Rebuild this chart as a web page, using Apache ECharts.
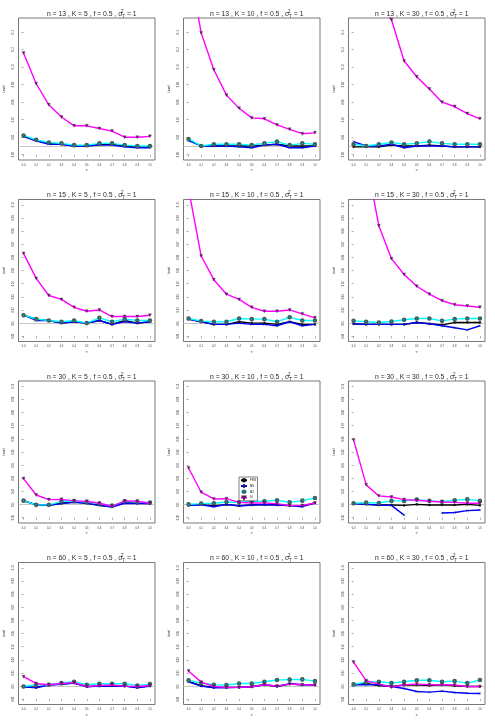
<!DOCTYPE html>
<html><head><meta charset="utf-8">
<script src="https://cdn.jsdelivr.net/npm/echarts@6/dist/echarts.min.js"></script>
<style>html,body{margin:0;padding:0;background:#fff}#c{width:495px;height:726px}</style>
</head><body><div id="c"></div>
<script>
// ---- data ----
const tau2 = [0.0,0.1,0.2,0.3,0.4,0.5,0.6,0.7,0.8,0.9,1.0];
const nVals = [13,15,30,60];
const kVals = [5,10,30];
const methods = ['FSW','MS','M2','SI'];
const yTicksRow1 = [0,0.02,0.04,0.06,0.08,0.10,0.12,0.14];
const yTicksOther = [0,0.01,0.02,0.03,0.04,0.05,0.06,0.07,0.08,0.09,0.10];
const nominalLevel = 0.01;

// n = 13
const fsw_13_5 = [0.021,0.016,0.013,0.012,0.010,0.010,0.012,0.012,0.010,0.009,0.009];
const ms_13_5  = [0.021,0.016,0.012,0.012,0.010,0.010,0.011,0.011,0.009,0.008,0.008];
const m2_13_5  = [0.022,0.017,0.014,0.013,0.011,0.011,0.013,0.013,0.011,0.010,0.010];
const si_13_5  = [0.116,0.081,0.057,0.043,0.033,0.033,0.030,0.027,0.020,0.020,0.021];

const fsw_13_10 = [0.017,0.010,0.010,0.010,0.010,0.010,0.011,0.012,0.010,0.010,0.010];
const ms_13_10  = [0.016,0.010,0.010,0.010,0.009,0.008,0.011,0.012,0.008,0.008,0.010];
const m2_13_10  = [0.018,0.010,0.012,0.012,0.012,0.011,0.013,0.015,0.011,0.013,0.012];
const si_13_10  = [0.220,0.139,0.097,0.068,0.053,0.042,0.041,0.034,0.029,0.024,0.025];

const fsw_13_30 = [0.009,0.009,0.009,0.011,0.010,0.010,0.011,0.010,0.009,0.009,0.009];
const ms_13_30  = [0.015,0.010,0.010,0.012,0.008,0.010,0.010,0.010,0.009,0.009,0.009];
const m2_13_30  = [0.012,0.010,0.012,0.014,0.012,0.013,0.015,0.013,0.012,0.012,0.012];
const si_13_30  = [0.330,0.260,0.175,0.154,0.107,0.089,0.075,0.060,0.055,0.047,0.041];

// n = 15
const fsw_15_5 = [0.016,0.013,0.012,0.010,0.011,0.010,0.012,0.009,0.012,0.010,0.011];
const ms_15_5  = [0.016,0.012,0.012,0.010,0.011,0.010,0.012,0.009,0.011,0.010,0.011];
const m2_15_5  = [0.016,0.013,0.012,0.011,0.012,0.010,0.014,0.011,0.013,0.012,0.012];
const si_15_5  = [0.063,0.044,0.031,0.028,0.022,0.019,0.020,0.015,0.015,0.015,0.016];

const fsw_15_10 = [0.013,0.011,0.009,0.009,0.011,0.010,0.010,0.009,0.011,0.009,0.009];
const ms_15_10  = [0.013,0.011,0.009,0.009,0.010,0.009,0.009,0.008,0.011,0.008,0.009];
const m2_15_10  = [0.0135,0.0115,0.011,0.011,0.0135,0.013,0.013,0.011,0.0145,0.012,0.012];
const si_15_10  = [0.112,0.061,0.043,0.032,0.028,0.022,0.019,0.019,0.020,0.017,0.014];

const fsw_15_30 = [0.0095,0.009,0.009,0.009,0.009,0.0105,0.0095,0.0085,0.0105,0.0105,0.0105];
const ms_15_30  = [0.0095,0.009,0.009,0.009,0.009,0.0105,0.0095,0.008,0.0065,0.0048,0.008];
const m2_15_30  = [0.0117,0.011,0.0105,0.0112,0.0125,0.0135,0.0135,0.0117,0.013,0.0135,0.0135];
const si_15_30  = [0.200,0.135,0.084,0.059,0.047,0.038,0.032,0.027,0.024,0.023,0.022];

// n = 30
const fsw_30_5 = [0.013,0.010,0.0095,0.011,0.012,0.011,0.0095,0.0083,0.0115,0.011,0.0107];
const ms_30_5  = [0.0128,0.0098,0.0094,0.0107,0.0117,0.011,0.0094,0.0082,0.011,0.0107,0.0107];
const m2_30_5  = [0.013,0.0098,0.0098,0.0125,0.0127,0.012,0.0107,0.0092,0.0125,0.0122,0.0115];
const si_30_5  = [0.0298,0.0173,0.0138,0.014,0.0128,0.0125,0.011,0.0087,0.0128,0.0125,0.011];

const fsw_30_10 = [0.0094,0.010,0.0092,0.010,0.0092,0.0097,0.010,0.0097,0.0092,0.009,0.0112];
const ms_30_10  = [0.0094,0.0099,0.0084,0.0102,0.0089,0.0097,0.010,0.0097,0.0092,0.0084,0.0112];
const m2_30_10  = [0.0102,0.0107,0.011,0.012,0.0117,0.0125,0.0125,0.0133,0.0117,0.013,0.015];
const si_30_10  = [0.0378,0.0194,0.0143,0.0145,0.0117,0.0112,0.0112,0.0107,0.0092,0.0094,0.0112];

const fsw_30_30 = [0.0107,0.0102,0.0097,0.0097,0.0094,0.0102,0.0097,0.0097,0.0097,0.0102,0.0094];
const ms_30_30  = [0.0107,0.0102,0.0097,0.0094,0.002,null,null,0.0036,0.004,0.0054,0.0059];
const m2_30_30  = [0.011,0.0115,0.0112,0.0128,0.0128,0.0138,0.0128,0.0122,0.0133,0.014,0.0128];
const si_30_30  = [0.0592,0.025,0.0166,0.0158,0.0138,0.0133,0.0125,0.012,0.0117,0.011,0.011];

// n = 60
const fsw_60_5 = [0.0095,0.009,0.011,0.0115,0.0123,0.0097,0.010,0.0103,0.010,0.009,0.010];
const ms_60_5  = [0.0094,0.0087,0.0108,0.0113,0.0123,0.0095,0.010,0.0103,0.010,0.0087,0.010];
const m2_60_5  = [0.0097,0.011,0.011,0.0123,0.0133,0.011,0.0118,0.0118,0.0118,0.0105,0.0115];
const si_60_5  = [0.0172,0.012,0.011,0.012,0.0126,0.0097,0.0105,0.0108,0.010,0.0097,0.0105];

const fsw_60_10 = [0.0135,0.0103,0.009,0.009,0.009,0.0095,0.011,0.0097,0.0115,0.011,0.011];
const ms_60_10  = [0.0133,0.010,0.0087,0.0087,0.009,0.0095,0.011,0.010,0.0118,0.011,0.011];
const m2_60_10  = [0.0144,0.0123,0.011,0.0108,0.012,0.012,0.0133,0.0146,0.0149,0.0151,0.0138];
const si_60_10  = [0.0215,0.013,0.0097,0.009,0.009,0.0095,0.011,0.010,0.0115,0.011,0.0108];

const fsw_60_30 = [0.011,0.012,0.0105,0.0097,0.0108,0.011,0.0105,0.011,0.0103,0.0097,0.0097];
const ms_60_30  = [0.011,0.011,0.011,0.0097,0.0082,0.0059,0.0054,0.0062,0.0051,0.0046,0.0044];
const m2_60_30  = [0.0113,0.013,0.0133,0.0123,0.0133,0.0144,0.0144,0.0133,0.0138,0.0123,0.0146];
const si_60_30  = [0.0282,0.0141,0.0115,0.0092,0.011,0.0115,0.011,0.011,0.0108,0.0097,0.0097];

const panelData = [
  [fsw_13_5, ms_13_5, m2_13_5, si_13_5], [fsw_13_10, ms_13_10, m2_13_10, si_13_10], [fsw_13_30, ms_13_30, m2_13_30, si_13_30],
  [fsw_15_5, ms_15_5, m2_15_5, si_15_5], [fsw_15_10, ms_15_10, m2_15_10, si_15_10], [fsw_15_30, ms_15_30, m2_15_30, si_15_30],
  [fsw_30_5, ms_30_5, m2_30_5, si_30_5], [fsw_30_10, ms_30_10, m2_30_10, si_30_10], [fsw_30_30, ms_30_30, m2_30_30, si_30_30],
  [fsw_60_5, ms_60_5, m2_60_5, si_60_5], [fsw_60_10, ms_60_10, m2_60_10, si_60_10], [fsw_60_30, ms_60_30, m2_60_30, si_60_30]
];

// ---- styles ----
const FONT = 'Liberation Sans';
const lineColors = {FSW:'#000000', MS:'#0000ff', M2:'#00ffff', SI:'#ff00ff'};
const markColors = {FSW:'#111111', MS:'#202060', M2:'#3a6262', SI:'#5a205a'};
const symbols = {
  FSW:{symbol:'circle', size:2.2, rot:0, bw:0.3},
  MS:{symbol:'path://M0,0L10,10M10,0L0,10', size:2.4, rot:0, bw:0.5},
  M2:{symbol:'emptyCircle', size:2.6, rot:0, bw:0.5},
  SI:{symbol:'triangle', size:3, rot:180, bw:0.3}
};

const grids = [], xAxes = [], yAxes = [], series = [], titles = [];
const colW = 165, rowH = 181.5;
for (let r = 0; r < 4; r++) {
  for (let c = 0; c < 3; c++) {
    const i = r * 3 + c;
    const left = c * colW + 18.5, top = r * rowH + 18;
    grids.push({left: left, top: top, width: 136.5, height: 142, show: true,
      borderColor: '#555', borderWidth: 0.8, backgroundColor: 'transparent', containLabel: false});
    xAxes.push({type:'value', gridIndex:i, min:-0.04, max:1.04,
      axisLine:{show:false}, splitLine:{show:false},
      axisTick:{show:true, length:2, customValues: tau2, lineStyle:{color:'#555', width:0.5}},
      axisLabel:{show:true, customValues: tau2, fontSize:2.6, margin:3.5, color:'#333', fontFamily:FONT,
        formatter: v => v.toFixed(1)},
      name:'τ²', nameLocation:'middle', nameGap:9, nameTextStyle:{fontSize:3.2, fontFamily:FONT, color:'#333'}});
    const ticks = r === 0 ? yTicksRow1 : yTicksOther;
    const lo = 0, hi = r === 0 ? 0.15 : 0.10, pad = 0.04 * (hi - lo);
    yAxes.push({type:'value', gridIndex:i, min: lo - pad, max: hi + pad,
      axisLine:{show:false}, splitLine:{show:false},
      axisTick:{show:true, length:2, customValues: ticks, lineStyle:{color:'#555', width:0.5}},
      axisLabel:{show:true, customValues: ticks, rotate:90, fontSize:2.6, margin:3.5, color:'#333', fontFamily:FONT,
        formatter: v => v.toFixed(2)},
      name:'Level', nameLocation:'middle', nameRotate:90, nameGap:13, nameTextStyle:{fontSize:3, fontFamily:FONT, color:'#333'}});
    titles.push({
      text: 'n = ' + nVals[r] + ' , K = ' + kVals[c] + ' , f = 0.5 , σ{sp|2}{sb|T} = 1',
      left: left + 68.25, top: r * rowH + 4, textAlign: 'center',
      textStyle:{fontSize:6.8, fontWeight:'normal', fontFamily:FONT, color:'#2a2a2a', lineHeight:10,
        rich:{sp:{fontSize:4.5, fontWeight:'normal', verticalAlign:'top', width:0, fontFamily:FONT, lineHeight:10, color:'#2a2a2a'},
              sb:{fontSize:4.5, fontWeight:'normal', verticalAlign:'bottom', fontFamily:FONT, lineHeight:10, color:'#2a2a2a'}}}
    });
    methods.forEach((m, j) => {
      const vals = panelData[i][j];
      const s = {
        type:'line', name:m, xAxisIndex:i, yAxisIndex:i,
        data: tau2.map((x, k) => [x, vals[k] == null ? '-' : vals[k]]),
        connectNulls:false, clip:true,
        symbol: symbols[m].symbol, symbolSize: symbols[m].size, symbolRotate: symbols[m].rot,
        showSymbol:true,
        lineStyle:{color: lineColors[m], width:1.4},
        itemStyle:{color: markColors[m], borderColor: markColors[m], borderWidth: symbols[m].bw},
        emphasis:{disabled:true}, z: 3 + j
      };
      if (j === 0) {
        s.markLine = {silent:true, symbol:['none','none'], label:{show:false},
          lineStyle:{color:'#c8c8c8', width:1.2, type:'solid'}, z:1,
          data:[{yAxis: nominalLevel}]};
      }
      series.push(s);
    });
  }
}

const chart = echarts.init(document.getElementById('c'), null, {renderer:'canvas'});
chart.setOption({
  animation:false,
  backgroundColor:'#ffffff',
  title: titles,
  grid: grids, xAxis: xAxes, yAxis: yAxes, series: series,
  legend:{data: methods, orient:'vertical', left:239, top:477, itemWidth:6, itemHeight:3, itemGap:1.4,
    padding:[1,1.5,1,1], borderColor:'#000', borderWidth:0.5, backgroundColor:'#fff',
    textStyle:{fontSize:2.7, fontFamily:FONT, color:'#000', padding:[0,0,0,-2]}, selectedMode:false, z:10}
});
</script></body></html>
